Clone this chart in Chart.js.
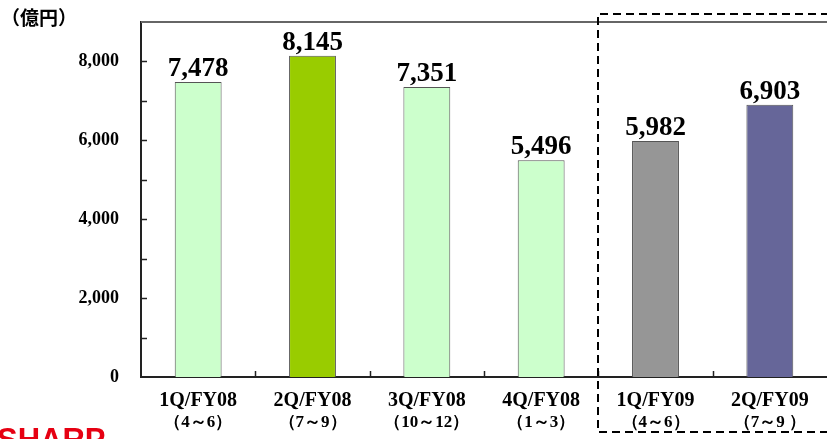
<!DOCTYPE html>
<html>
<head>
<meta charset="utf-8">
<script src="https://cdn.jsdelivr.net/npm/chart.js@4"></script>
<style>
  html, body { margin: 0; padding: 0; background: #fff; }
  #wrap { width: 827px; height: 439px; position: relative; }
</style>
</head>
<body>
<div id="wrap"><canvas id="barChart" width="827" height="439"></canvas></div>
<script>
// quarterly sales (億円)
var quarters = ['1Q/FY08', '2Q/FY08', '3Q/FY08', '4Q/FY08', '1Q/FY09', '2Q/FY09'];
var periods = ['（4～6）', '（7～9）', '（10～12）', '（1～3）', '（4～6）', '（7～9 ）'];
var sales = [7478, 8145, 7351, 5496, 5982, 6903];
var barColors = ['#ccffcc', '#99cc00', '#ccffcc', '#ccffcc', '#969696', '#666699'];
var yMin = 0, yMax = 9000, yStep = 1000;
var unitLabel = '（億円）';
var logoText = 'SHARP';

var serif = '"Liberation Serif", "Times New Roman", serif';

// everything the library doesn't draw by itself
var extras = {
    id: 'extras',
    afterDatasetsDraw: function(chart) {
        var ctx = chart.ctx;
        var a = chart.chartArea;
        var x = chart.scales.x, y = chart.scales.y;
        ctx.save();

        // top border of plot area
        ctx.strokeStyle = '#666';
        ctx.lineWidth = 2;
        ctx.beginPath();
        ctx.moveTo(a.left, a.top);
        ctx.lineTo(a.right, a.top);
        ctx.stroke();

        // y ticks (inside)
        ctx.strokeStyle = '#222';
        ctx.lineWidth = 1.5;
        for (var v = yMin + yStep; v < yMax; v += yStep) {
            var py = Math.round(y.getPixelForValue(v)) + 0.5;
            ctx.beginPath();
            ctx.moveTo(a.left, py);
            ctx.lineTo(a.left + 6, py);
            ctx.stroke();
        }
        // x ticks between categories (inside)
        for (var i = 0; i < quarters.length - 1; i++) {
            var px = Math.round((x.getPixelForValue(i) + x.getPixelForValue(i + 1)) / 2) + 0.5;
            ctx.beginPath();
            ctx.moveTo(px, a.bottom);
            ctx.lineTo(px, a.bottom - 6);
            ctx.stroke();
        }

        // value labels above bars
        ctx.fillStyle = '#000';
        ctx.font = 'bold 27px ' + serif;
        ctx.textAlign = 'center';
        ctx.textBaseline = 'alphabetic';
        var meta = chart.getDatasetMeta(0);
        meta.data.forEach(function(bar, k) {
            ctx.fillText(sales[k].toLocaleString('en-US'), bar.x, bar.y - 6);
        });

        // second line of the category labels
        ctx.font = 'bold 17px ' + serif;
        ctx.textBaseline = 'middle';
        periods.forEach(function(p, k) {
            ctx.fillText(p, x.getPixelForValue(k), 423);
        });

        // dashed box round FY09
        var bx = Math.round((x.getPixelForValue(3) + x.getPixelForValue(4)) / 2);
        ctx.strokeStyle = '#000';
        ctx.lineWidth = 2;
        ctx.setLineDash([8, 5]);
        ctx.beginPath();
        ctx.moveTo(chart.width + 2, 14);
        ctx.lineTo(bx, 14);
        ctx.lineTo(bx, 432);
        ctx.lineTo(chart.width + 2, 432);
        ctx.stroke();
        ctx.setLineDash([]);

        // unit label
        ctx.textAlign = 'left';
        ctx.font = 'bold 19px "Noto Sans CJK JP", sans-serif';
        ctx.fillText(unitLabel, 1, 18);

        // logo, cut off at the bottom edge
        ctx.fillStyle = '#e60012';
        ctx.font = 'bold 31px "Liberation Sans", Arial, sans-serif';
        ctx.textBaseline = 'alphabetic';
        ctx.fillText(logoText, -3, 450);

        ctx.restore();
    }
};

var ctx = document.getElementById('barChart').getContext('2d');
var chart = new Chart(ctx, {
    type: 'bar',
    data: {
        labels: quarters,
        datasets: [{
            data: sales,
            backgroundColor: barColors,
            borderColor: '#555',
            borderWidth: 1,
            barPercentage: 0.41,
            categoryPercentage: 1
        }]
    },
    options: {
        responsive: false,
        animation: false,
        layout: { padding: { top: 22, left: 0, right: 0, bottom: 0 } },
        plugins: { legend: { display: false }, tooltip: { enabled: false } },
        scales: {
            x: {
                offset: true,
                grid: { display: false, drawTicks: false },
                border: { display: true, color: '#222', width: 2 },
                ticks: {
                    color: '#000',
                    font: { family: serif, size: 20, weight: 'bold' },
                    padding: 12,
                    maxRotation: 0,
                    autoSkip: false
                },
                afterFit: function(s) { s.height = 62; s.paddingLeft = 0; s.paddingRight = 0; }
            },
            y: {
                min: yMin,
                max: yMax,
                grid: { display: false, drawTicks: false },
                border: { display: true, color: '#222', width: 2 },
                ticks: {
                    stepSize: yStep,
                    color: '#000',
                    padding: 22,
                    font: { family: serif, size: 18, weight: 'bold' },
                    callback: function(v) {
                        if (v % 2000 !== 0) return '';
                        return v.toLocaleString('en-US');
                    }
                },
                afterFit: function(s) { s.width = 141; s.paddingTop = 0; s.paddingBottom = 0; }
            }
        }
    },
    plugins: [extras]
});
</script>
</body>
</html>
